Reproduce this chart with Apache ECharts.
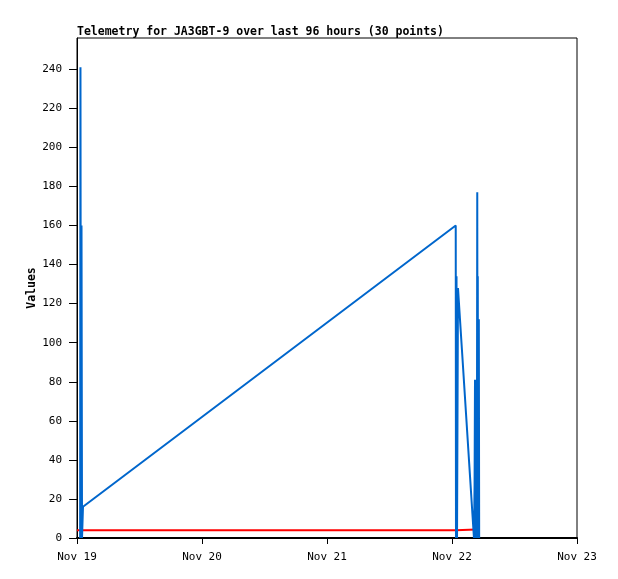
<!DOCTYPE html>
<html>
<head>
<meta charset="utf-8">
<script src="https://cdn.jsdelivr.net/npm/echarts@6/dist/echarts.min.js"></script>
<style>
  html, body { margin: 0; padding: 0; background: #fff; }
  #chart { width: 618px; height: 579px; }
</style>
</head>
<body>
<div id="chart"></div>
<script>
const START = Date.UTC(2024, 10, 19, 0, 0);
const MIN = 60 * 1000;
const DAY = 24 * 60 * MIN;

// minutes after Nov 19 00:00
const blueMinutes = [36, 40, 45, 52, 58, 69, 4363, 4366, 4372, 4378, 4389, 4435, 4481, 4527, 4573, 4580, 4585, 4590, 4600, 4606, 4611, 4615, 4617, 4620, 4624, 4629, 4633];
const blueValues = [0, 241, 0, 160, 0, 16, 160, 0, 134, 0, 128, 96, 64, 32, 0, 27, 81, 0, 27, 0, 177, 0, 134, 0, 80, 112, 0];

const redMinutes = [0, 69, 4363, 4378, 4597];
const redValues = [4, 4, 4, 4.3, 4.3];

const dayLabels = ["Nov 19", "Nov 20", "Nov 21", "Nov 22", "Nov 23"];
const yTicks = [0, 20, 40, 60, 80, 100, 120, 140, 160, 180, 200, 220, 240];

const toPairs = (mins, vals) => mins.map((m, i) => [START + m * MIN, vals[i]]);

const FONT = "DejaVu Sans Mono";

const chart = echarts.init(document.getElementById("chart"));
chart.setOption({
  animation: false,
  title: {
    text: "Telemetry for JA3GBT-9 over last 96 hours (30 points)",
    left: 72,
    top: 21,
    textStyle: { fontFamily: FONT, fontSize: 11.5, fontWeight: "bold", color: "#000" },
  },
  grid: {
    left: 77, top: 38, width: 500, height: 500,
    show: true, borderColor: "#000", borderWidth: 1, backgroundColor: "#fff",
  },
  xAxis: {
    type: "value",
    min: START,
    max: START + 4 * DAY,
    interval: DAY,
    axisLine: { lineStyle: { color: "#000", width: 2 } },
    axisTick: { show: true, length: 6, lineStyle: { color: "#000" } },
    splitLine: { show: false },
    axisLabel: {
      margin: 14,
      fontFamily: FONT,
      fontSize: 11,
      color: "#000",
      formatter: (v) => dayLabels[Math.round((v - START) / DAY)] || "",
    },
  },
  yAxis: {
    type: "value",
    min: 0,
    max: 256,
    name: "Values",
    nameLocation: "middle",
    nameGap: 39,
    nameMoveOverlap: false,
    nameTextStyle: { fontFamily: FONT, fontSize: 11.5, fontWeight: "bold", color: "#000" },
    axisLine: { show: true, lineStyle: { color: "#000" } },
    axisTick: { show: true, length: 8, lineStyle: { color: "#000" }, customValues: yTicks },
    splitLine: { show: false },
    axisLabel: {
      customValues: yTicks,
      margin: 15,
      fontFamily: FONT,
      fontSize: 11,
      color: "#000",
    },
  },
  series: [
    {
      name: "red",
      type: "line",
      data: toPairs(redMinutes, redValues),
      symbol: "none",
      lineStyle: { color: "#ff0000", width: 2 },
    },
    {
      name: "blue",
      type: "line",
      data: toPairs(blueMinutes, blueValues),
      symbol: "none",
      lineStyle: { color: "#0066cc", width: 2 },
    },
  ],
});
</script>
</body>
</html>
